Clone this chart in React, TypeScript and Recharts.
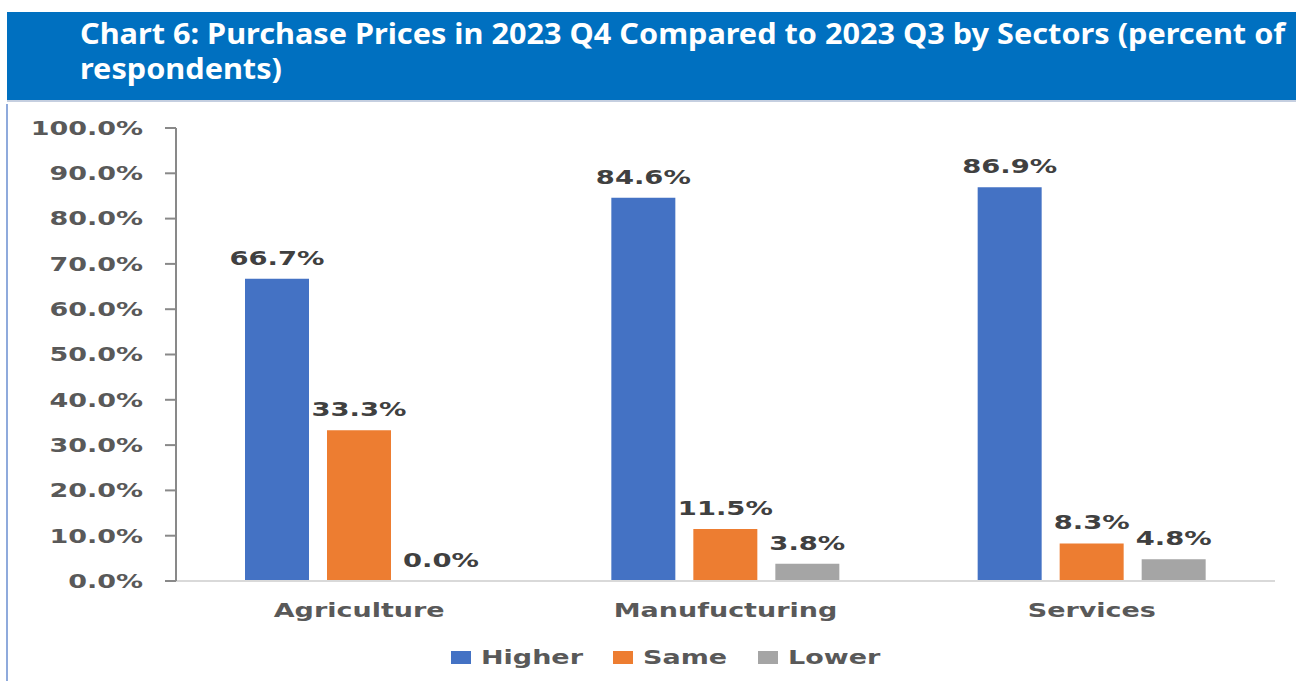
import React from 'react';
import { BarChart, Bar, XAxis, YAxis, Legend, LabelList } from 'recharts';

const categories = ['Agriculture', 'Manufucturing', 'Services'];
const higher = [66.7, 84.6, 86.9];
const same = [33.3, 11.5, 8.3];
const lower = [0.0, 3.8, 4.8];
const yTicks = [0, 10, 20, 30, 40, 50, 60, 70, 80, 90, 100];

const seriesKeys = ['higher', 'same', 'lower'];
const seriesNames = ['Higher', 'Same', 'Lower'];
const seriesColors = ['#4472c4', '#ed7d31', '#a5a5a5'];

const data = categories.map((name, i) => ({
  name,
  higher: higher[i],
  same: same[i],
  lower: lower[i],
}));

const FONT = '"DejaVu Sans", Verdana, sans-serif';
// the original chart image is stretched sideways, so the text is too
const STRETCH = 1.42;

const YTick = (props: any) => {
  const { x, y, payload } = props;
  return (
    <text
      transform={`translate(${x - 20},${y}) scale(${STRETCH},1)`}
      textAnchor="end"
      dy="0.36em"
      fontFamily={FONT}
      fontWeight="bold"
      fontSize={19}
      fill="#595959"
    >
      {Number(payload.value).toFixed(1) + '%'}
    </text>
  );
};

const XTick = (props: any) => {
  const { x, payload } = props;
  return (
    <text
      transform={`translate(${x},617) scale(${STRETCH},1)`}
      textAnchor="middle"
      fontFamily={FONT}
      fontWeight="bold"
      fontSize={19}
      fill="#595959"
    >
      {payload.value}
    </text>
  );
};

const BarLabel = (props: any) => {
  const vb = props.viewBox || {};
  const x = props.x ?? vb.x;
  const y = props.y ?? vb.y;
  const width = props.width ?? vb.width;
  const cx = x + width / 2;
  return (
    <text
      transform={`translate(${cx},${y - 14}) scale(1.37,1)`}
      textAnchor="middle"
      fontFamily={FONT}
      fontWeight="bold"
      fontSize={20}
      fill="#404040"
    >
      {Number(props.value).toFixed(1) + '%'}
    </text>
  );
};

const legendX = [451, 613, 758];

const renderLegend = () => (
  <svg width={1296} height={24} style={{ display: 'block' }}>
    {seriesNames.map((n, i) => (
      <g key={n}>
        <rect x={legendX[i]} y={6} width={20} height={13} fill={seriesColors[i]} />
        <text
          transform={`translate(${legendX[i] + 30},19) scale(${STRETCH},1)`}
          fontFamily={FONT}
          fontWeight="bold"
          fontSize={19}
          fill="#595959"
        >
          {n}
        </text>
      </g>
    ))}
  </svg>
);

export default function App() {
  return (
    <div
      style={{
        position: 'absolute',
        left: 0,
        top: 0,
        width: 1296,
        height: 681,
        background: '#fff',
        overflow: 'hidden',
      }}
    >
      <div
        style={{
          position: 'absolute',
          left: 7,
          top: 12,
          width: 1289,
          height: 90,
          background: '#0070c0',
          borderBottom: '2px solid #c5cfe0',
          color: '#fff',
          fontFamily: '"Noto Sans", "Open Sans", sans-serif',
          fontWeight: 'bold',
          fontSize: 28,
          lineHeight: '35px',
          paddingTop: 4,
          paddingLeft: 73,
          boxSizing: 'border-box',
          whiteSpace: 'nowrap',
        }}
      >
        <div style={{ transform: 'scaleX(1.095)', transformOrigin: 'left top' }}>
          <div>Chart 6: Purchase Prices in 2023 Q4 Compared to 2023 Q3 by Sectors (percent of</div>
          <div>respondents)</div>
        </div>
      </div>
      <div
        style={{
          position: 'absolute',
          left: 6,
          top: 104,
          width: 2,
          height: 577,
          background: '#8faadc',
        }}
      />
      <div style={{ position: 'absolute', left: 0, top: 0 }}>
        <BarChart
          width={1296}
          height={681}
          data={data}
          margin={{ top: 128, right: 21, bottom: 12, left: 0 }}
          barSize={64}
          barGap={18}
        >
          <XAxis
            dataKey="name"
            interval={0}
            height={64}
            axisLine={{ stroke: '#d9d9d9', strokeWidth: 2 }}
            tickLine={false}
            tick={XTick}
          />
          <YAxis
            domain={[0, 100]}
            ticks={yTicks}
            width={176}
            tickSize={11}
            axisLine={{ stroke: '#898989', strokeWidth: 2 }}
            tickLine={{ stroke: '#898989', strokeWidth: 2 }}
            tick={YTick}
          />
          <Legend verticalAlign="bottom" height={24} content={renderLegend} />
          {seriesKeys.map((k, i) => (
            <Bar
              key={k}
              dataKey={k}
              name={seriesNames[i]}
              fill={seriesColors[i]}
              minPointSize={0.01}
              isAnimationActive={false}
            >
              <LabelList dataKey={k} content={BarLabel} />
            </Bar>
          ))}
        </BarChart>
      </div>
    </div>
  );
}
